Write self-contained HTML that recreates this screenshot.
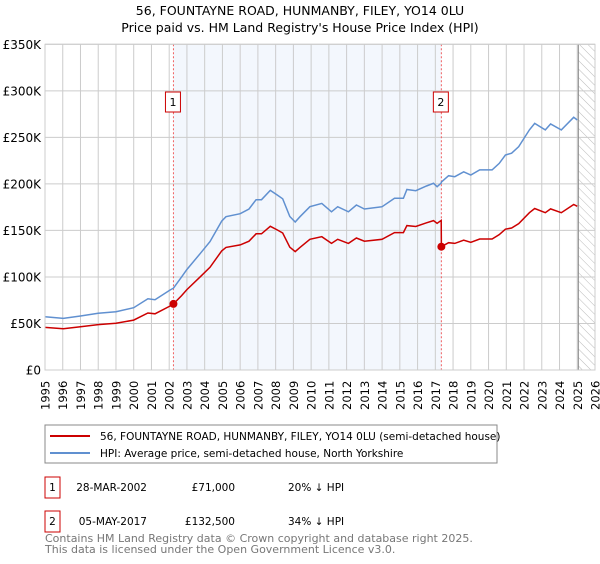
<!DOCTYPE html>
<html><head><meta charset="utf-8"><style>
body{margin:0;background:#fff;font-family:"DejaVu Sans","Liberation Sans",sans-serif;}
</style></head><body>
<svg id="chart" width="600" height="560" xmlns="http://www.w3.org/2000/svg" font-family="DejaVu Sans, Liberation Sans, sans-serif">
<defs><pattern id="hatch" width="6" height="6" patternUnits="userSpaceOnUse" patternTransform="rotate(-45)"><line x1="0" y1="0" x2="0" y2="6" stroke="#bbb" stroke-width="1"/></pattern></defs>
<text x="300" y="15" text-anchor="middle" font-size="12.5">56, FOUNTAYNE ROAD, HUNMANBY, FILEY, YO14 0LU</text>
<text x="300" y="32" text-anchor="middle" font-size="12.5">Price paid vs. HM Land Registry's House Price Index (HPI)</text>
<g id="plot"></g>
<g>
<rect x="45" y="425" width="452" height="38" fill="#fff" stroke="#888"/>
<line x1="50" y1="436" x2="90" y2="436" stroke="#cc0000" stroke-width="2"/>
<text x="100" y="440" font-size="10.5">56, FOUNTAYNE ROAD, HUNMANBY, FILEY, YO14 0LU (semi-detached house)</text>
<line x1="50" y1="453" x2="90" y2="453" stroke="#6090d0" stroke-width="2"/>
<text x="100" y="457" font-size="10.5">HPI: Average price, semi-detached house, North Yorkshire</text>
</g>
<g font-size="10.5">
<rect x="45" y="477" width="15" height="21" fill="#fff" stroke="#cc0000"/>
<text x="52.5" y="491" text-anchor="middle">1</text>
<text x="147" y="491" text-anchor="end">28-MAR-2002</text>
<text x="235" y="491" text-anchor="end">£71,000</text>
<text x="288" y="491">20% ↓ HPI</text>
<rect x="45" y="511" width="15" height="21" fill="#fff" stroke="#cc0000"/>
<text x="52.5" y="525" text-anchor="middle">2</text>
<text x="147" y="525" text-anchor="end">05-MAY-2017</text>
<text x="235" y="525" text-anchor="end">£132,500</text>
<text x="288" y="525">34% ↓ HPI</text>
</g>
<text x="45" y="542" font-size="11" fill="#777">Contains HM Land Registry data © Crown copyright and database right 2025.</text>
<text x="45" y="553" font-size="11" fill="#777">This data is licensed under the Open Government Licence v3.0.</text>
</svg>
<script>
const years=[1995.0,1996.03,1997.0,1998.0,1999.0,2000.0,2000.8,2001.2,2002.05,2002.24,2002.7,2003.0,2003.74,2004.3,2004.96,2005.2,2006.0,2006.5,2006.9,2007.2,2007.7,2008.1,2008.4,2008.8,2009.1,2009.37,2009.93,2010.6,2011.15,2011.5,2012.1,2012.55,2013.0,2014.0,2014.7,2015.2,2015.4,2015.9,2016.5,2016.9,2017.1,2017.33,2017.34,2017.75,2018.1,2018.6,2019.0,2019.5,2020.2,2020.6,2020.95,2021.3,2021.7,2022.3,2022.6,2023.2,2023.5,2024.1,2024.8,2025.0];
const hpi=[57.3,55.5,58,61,62.7,67,76.5,75.5,86,88,100,108,125,138,160,164.7,168,173,183,183,193,188,184,165,159,164.7,175.5,179,170,175.5,170,177.3,173,175.5,184.5,184.5,194,192.7,197.7,200.6,197,201,202,208.8,207.7,213,209.5,215,215,222,231,233,240,258,265,258,264.3,258,271.5,268.6];
const price=[45.8,44.4,46.4,48.8,50.2,53.6,61.2,60.4,68.8,71,80,86.4,100,110.4,128,131.8,134.4,138.4,146.4,146.4,154.4,150.4,147.2,132,127.2,131.8,140.4,143.2,136,140.4,136,141.8,138.4,140.4,147.6,147.6,155.2,154.2,158.2,160.5,157.6,160.8,132.5,136.8,136,139.5,137.2,140.8,140.8,145.4,151.3,152.6,157.2,169,173.6,169,173.1,169,177.8,175.9];
const yTicks=[0,50,100,150,200,250,300,350];
const yTickLabels=["£0","£50K","£100K","£150K","£200K","£250K","£300K","£350K"];
const xTicks=[1995,1996,1997,1998,1999,2000,2001,2002,2003,2004,2005,2006,2007,2008,2009,2010,2011,2012,2013,2014,2015,2016,2017,2018,2019,2020,2021,2022,2023,2024,2025,2026];
const saleYears=[2002.24,2017.34];
const salePrices=[71,132.5];
const saleLabels=["1","2"];
const NS="http://www.w3.org/2000/svg";
const L=45,R=595,T=44.3,B=370;
const X=v=>L+(v-1995)/(2026-1995)*(R-L);
const Y=v=>B-v/350*(B-T);
const g=document.getElementById('plot');
function mk(t,a){const e=document.createElementNS(NS,t);for(const k in a)e.setAttribute(k,a[k]);g.appendChild(e);return e;}
let e;
e=mk('rect',{x:X(saleYears[0]),y:T,width:X(saleYears[1])-X(saleYears[0]),height:B-T,fill:'#eef3fc',opacity:0.7});


e=mk('rect',{x:X(2025.06),y:T,width:R-X(2025.06),height:B-T,fill:'url(#hatch)'});


xTicks.forEach(v=>{
 e=mk('line',{x1:X(v),x2:X(v),y1:T,y2:B,stroke:'#ccc'});
 
 
 e=mk('text',{x:0,y:0,transform:`translate(${X(v)+4.5},${B+40}) rotate(-90)`,'font-size':11.5});
 e.textContent=v;
 
 
});
yTicks.forEach((v,i)=>{
 e=mk('line',{x1:L,x2:R,y1:Y(v),y2:Y(v),stroke:'#ccc'});
 
 
 e=mk('text',{x:L-4,y:Y(v)+4.5,'text-anchor':'end','font-size':12});
 e.textContent=yTickLabels[i];
 
 
});
e=mk('line',{x1:X(2025.06),x2:X(2025.06),y1:T,y2:B,stroke:'#888','stroke-width':1});


saleYears.forEach((v,i)=>{
 e=mk('line',{x1:X(v),x2:X(v),y1:T,y2:B,stroke:'#f06060','stroke-dasharray':'2,2'});
 
 
 e=mk('rect',{x:X(v)-8,y:92,width:15,height:20,fill:'#fff',stroke:'#cc0000'});
 
 
 e=mk('text',{x:X(v)-0.5,y:106,'text-anchor':'middle','font-size':11});
 e.textContent=saleLabels[i];
 
 
});
function line(vals,col,name){
 const d=vals.map((v,i)=>(i?'L':'M')+X(years[i]).toFixed(1)+','+Y(v).toFixed(1)).join('');
 const p=mk('path',{d:d,fill:'none',stroke:col,'stroke-width':1.5});
 
 
}
line(hpi,'#6090d0','hpi-line');
line(price,'#cc0000','price-line');
saleYears.forEach((v,i)=>{
 e=mk('circle',{cx:X(v),cy:Y(salePrices[i]),r:4,fill:'#cc0000'});
 
 
});
e=mk('rect',{x:L,y:T,width:R-L,height:B-T,fill:'none',stroke:'#ccc'});


</script>
</body></html>
